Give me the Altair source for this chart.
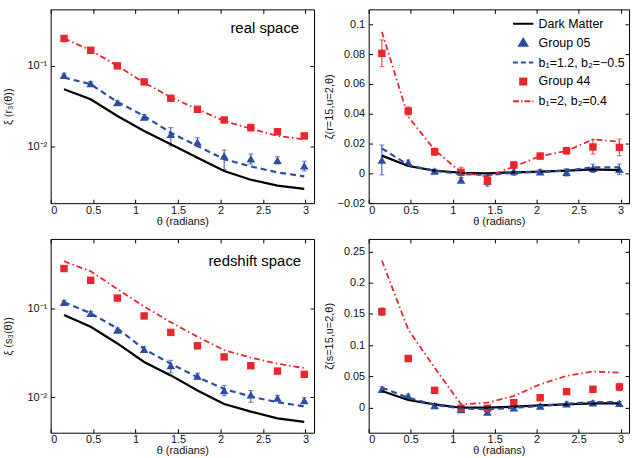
import altair as alt
import pandas as pd

# ---------------- data ----------------
theta = [0.157, 0.471, 0.785, 1.100, 1.414, 1.728, 2.042, 2.356, 2.670, 2.985]

# real space, xi(r3(theta))
dm_r = [0.0514, 0.0386, 0.0240, 0.0156, 0.0107, 0.0073, 0.0050, 0.0039, 0.0033, 0.0030]
fit05_r = [0.0716, 0.0593, 0.0358, 0.0240, 0.0149, 0.0102, 0.0070, 0.0057, 0.0048, 0.0043]
fit44_r = [0.218, 0.156, 0.100, 0.062, 0.041, 0.029, 0.0208, 0.0167, 0.0136, 0.0123]
g05_r = [0.0766, 0.0604, 0.0351, 0.0233, 0.0142, 0.0114, 0.0077, 0.0071, 0.0068, 0.0058]
g05_r_lo = [0.072, 0.056, 0.033, 0.0215, 0.0102, 0.0100, 0.0052, 0.0061, 0.0061, 0.0050]
g05_r_hi = [0.081, 0.064, 0.037, 0.025, 0.0172, 0.0129, 0.0091, 0.0081, 0.0075, 0.0066]
g44_r = [0.218, 0.156, 0.100, 0.0633, 0.0397, 0.0290, 0.0214, 0.0172, 0.0153, 0.0136]
g44_r_lo = [0.209, 0.150, 0.096, 0.060, 0.037, 0.0275, 0.0202, 0.0157, 0.0146, 0.0128]
g44_r_hi = [0.227, 0.163, 0.105, 0.067, 0.043, 0.0305, 0.0226, 0.0190, 0.0160, 0.0145]

# real space, zeta(r=15,u=2,theta)
dm_zr = [0.0119, 0.0049, 0.0018, 0.0004, 0.0000, 0.0007, 0.0011, 0.0018, 0.0027, 0.0022]
fit05_zr = [0.0168, 0.0056, 0.0016, -0.0004, -0.0011, 0.0004, 0.0010, 0.0018, 0.0040, 0.0040]
fit44_zr = [0.0950, 0.0380, 0.0157, 0.0007, -0.0022, 0.0045, 0.0116, 0.0150, 0.0228, 0.0212]
g05_zr = [0.0090, 0.0074, 0.0016, -0.0045, -0.0051, 0.0016, 0.0011, 0.0007, 0.0034, 0.0027]
g05_zr_err = [0.0100, 0.0015, 0.0012, 0.0015, 0.0035, 0.0030, 0.0015, 0.0025, 0.0028, 0.0035]
g44_zr = [0.0805, 0.0418, 0.0145, 0.0007, -0.0049, 0.0056, 0.0116, 0.0152, 0.0177, 0.0174]
g44_zr_err = [0.0090, 0.0028, 0.0025, 0.0034, 0.0028, 0.0022, 0.0019, 0.0023, 0.0048, 0.0056]

# redshift space, xi(s3(theta))
dm_s = [0.084, 0.062, 0.0402, 0.0249, 0.0176, 0.0119, 0.0084, 0.0069, 0.0058, 0.0053]
fit05_s = [0.117, 0.0877, 0.0594, 0.0347, 0.0238, 0.0168, 0.0124, 0.0102, 0.0088, 0.0079]
fit44_s = [0.337, 0.260, 0.164, 0.1045, 0.0695, 0.0478, 0.0338, 0.0279, 0.0238, 0.0213]
g05_s = [0.117, 0.0877, 0.0569, 0.0347, 0.0228, 0.0173, 0.0119, 0.0107, 0.0098, 0.0092]
g05_s_lo = [0.112, 0.084, 0.054, 0.0325, 0.0188, 0.0160, 0.0104, 0.0088, 0.0092, 0.0085]
g05_s_hi = [0.122, 0.092, 0.060, 0.037, 0.0260, 0.0186, 0.0136, 0.0119, 0.0105, 0.0099]
g44_s = [0.279, 0.206, 0.130, 0.0819, 0.0535, 0.0378, 0.0284, 0.0226, 0.0197, 0.0181]
g44_s_lo = [0.272, 0.201, 0.127, 0.080, 0.0522, 0.0369, 0.0277, 0.0220, 0.0192, 0.0176]
g44_s_hi = [0.286, 0.211, 0.133, 0.084, 0.0548, 0.0387, 0.0291, 0.0232, 0.0202, 0.0186]

# redshift space, zeta(s=15,u=2,theta)
dm_zs = [0.0268, 0.0123, 0.0054, 0.0000, 0.0000, 0.0016, 0.0037, 0.0054, 0.0070, 0.0070]
fit05_zs = [0.0320, 0.0160, 0.0043, -0.0010, -0.0027, 0.0000, 0.0027, 0.0064, 0.0090, 0.0090]
fit44_zs = [0.2355, 0.125, 0.064, 0.0054, 0.0080, 0.0187, 0.0375, 0.0510, 0.0580, 0.0560]
g05_zs = [0.0294, 0.0187, 0.0037, -0.0027, -0.0070, 0.0000, 0.0027, 0.0064, 0.0080, 0.0070]
g05_zs_err = [0.004, 0.003, 0.003, 0.003, 0.004, 0.003, 0.003, 0.003, 0.003, 0.003]
g44_zs = [0.1536, 0.0787, 0.0278, -0.0010, -0.0010, 0.0080, 0.0160, 0.0257, 0.0294, 0.0332]
g44_zs_err = [0.006, 0.003, 0.002, 0.002, 0.002, 0.003, 0.003, 0.003, 0.005, 0.006]

x_ticks = [0, 0.5, 1, 1.5, 2, 2.5, 3]
legend_labels = ["Dark Matter", "Group 05", "b₁=1.2, b₂=−0.5", "Group 44", "b₁=2, b₂=0.4"]

# ---------------- styles ----------------
FONT = "Liberation Sans"
BLACK = "#000000"
BLUE = "#2c4da3"
RED = "#e8262d"
LINE_PATH = "M-1,0L1,0"
TRI_PATH = "M0,-0.36L0.4,0.3L-0.4,0.3Z"
SQ_PATH = "M-0.3,-0.3L0.3,-0.3L0.3,0.3L-0.3,0.3Z"
W, H = 265, 195
WR = 262


def sym(v, e):
    return [a - b for a, b in zip(v, e)], [a + b for a, b in zip(v, e)]


def panel(data, yscale, yvalues, ytitle, yext, ytpad, width, label_expr=None,
          note=None, note_xy=(0, 0), with_legend=False):
    df = pd.DataFrame(data)
    xscale = alt.Scale(domain=[0, 3.1], nice=False, zero=False)
    xaxis = alt.Axis(values=x_ticks, format="~g", title="θ (radians)", offset=-4,
                     tickSize=4, domain=False, grid=False, labelPadding=1,
                     titlePadding=0)
    ykw = dict(values=yvalues, title=ytitle, offset=-4, tickSize=4, domain=False,
               grid=False, labelPadding=4, titlePadding=ytpad, minExtent=yext,
               maxExtent=yext)
    if label_expr:
        ykw["labelExpr"] = label_expr
    else:
        ykw["format"] = "~g"
    yaxis = alt.Axis(**ykw)
    X = alt.X("theta:Q", scale=xscale, axis=xaxis)

    def Y(f):
        return alt.Y(f"{f}:Q", scale=yscale, axis=yaxis)

    base = alt.Chart(df)
    layers = []
    for lo, hi, c in [("g05lo", "g05hi", BLUE), ("g44lo", "g44hi", RED)]:
        layers.append(base.mark_rule(color=c, strokeWidth=1).encode(
            x=X, y=Y(lo), y2=alt.Y2(f"{hi}:Q")))
        for f in (lo, hi):
            layers.append(base.mark_tick(color=c, orient="horizontal", size=5,
                                         thickness=1).encode(x=X, y=Y(f)))
    layers.append(base.mark_point(shape="triangle-up", filled=True, size=75,
                                  color=BLUE, opacity=1).encode(x=X, y=Y("g05")))
    layers.append(base.mark_point(shape="square", filled=True, size=56,
                                  color=RED, opacity=1).encode(x=X, y=Y("g44")))
    layers.append(base.mark_line(color=BLACK, strokeWidth=2.2).encode(x=X, y=Y("dm")))
    layers.append(base.mark_line(color=BLUE, strokeWidth=2.2, strokeDash=[6, 4]).encode(
        x=X, y=Y("fit05")))
    layers.append(base.mark_line(color=RED, strokeWidth=1.8,
                                 strokeDash=[6, 3, 1.5, 3]).encode(x=X, y=Y("fit44")))
    if note:
        layers.append(alt.Chart(pd.DataFrame({"t": [note]})).mark_text(
            align="right", baseline="middle", fontSize=15, font=FONT,
            color="black").encode(x=alt.value(note_xy[0]), y=alt.value(note_xy[1]),
                                  text="t:N"))
    if with_legend:
        # legend of the concatenated chart is placed from the root origin
        leg = alt.Legend(title=None, orient="none", legendX=464, legendY=3,
                         labelFont=FONT, labelFontSize=12.5, labelColor="black",
                         symbolSize=420, symbolStrokeWidth=2, rowPadding=1,
                         padding=0, labelOffset=4)

        def sc(rng):
            return alt.Scale(domain=legend_labels, range=rng)

        layers.append(alt.Chart(pd.DataFrame({"series": legend_labels}))
                      .transform_filter("false")
                      .mark_point(filled=False, strokeWidth=2, size=420, opacity=1)
                      .encode(
                          shape=alt.Shape("series:N", scale=sc(
                              [LINE_PATH, TRI_PATH, LINE_PATH, SQ_PATH, LINE_PATH]),
                              legend=leg),
                          stroke=alt.Stroke("series:N", scale=sc(
                              [BLACK, BLUE, BLUE, RED, RED]), legend=leg),
                          fill=alt.Fill("series:N", scale=sc(
                              ["transparent", BLUE, "transparent", RED, "transparent"]),
                              legend=leg),
                          strokeDash=alt.StrokeDash("series:N", scale=sc(
                              [[1, 0], [1, 0], [5, 3], [1, 0], [6, 2, 1.5, 2]]),
                              legend=leg),
                      ))
    inner = alt.layer(*layers)
    mirror = base.transform_filter("false").mark_point().encode(
        x=alt.X("theta:Q", scale=xscale,
                axis=alt.Axis(orient="top", values=x_ticks, labels=False, title=None,
                              offset=-4, tickSize=4, domain=False, grid=False,
                              minExtent=0, maxExtent=0)),
        y=alt.Y("dm:Q", scale=yscale,
                axis=alt.Axis(orient="right", values=yvalues, labels=False,
                              title=None, offset=-4, tickSize=4, domain=False,
                              grid=False, minExtent=0, maxExtent=0)),
    )
    return alt.layer(inner, mirror).resolve_axis(
        x="independent", y="independent").properties(width=width, height=H)


log_expr = "datum.value < 0.05 ? '10⁻²' : '10⁻¹'"

lo, hi = sym(g05_zr, g05_zr_err)
lo2, hi2 = sym(g44_zr, g44_zr_err)
tr_data = dict(theta=theta, dm=dm_zr, fit05=fit05_zr, fit44=fit44_zr, g05=g05_zr,
               g05lo=lo, g05hi=hi, g44=g44_zr, g44lo=lo2, g44hi=hi2)
lo, hi = sym(g05_zs, g05_zs_err)
lo2, hi2 = sym(g44_zs, g44_zs_err)
br_data = dict(theta=theta, dm=dm_zs, fit05=fit05_zs, fit44=fit44_zs, g05=g05_zs,
               g05lo=lo, g05hi=hi, g44=g44_zs, g44lo=lo2, g44hi=hi2)
tl_data = dict(theta=theta, dm=dm_r, fit05=fit05_r, fit44=fit44_r, g05=g05_r,
               g05lo=g05_r_lo, g05hi=g05_r_hi, g44=g44_r, g44lo=g44_r_lo,
               g44hi=g44_r_hi)
bl_data = dict(theta=theta, dm=dm_s, fit05=fit05_s, fit44=fit44_s, g05=g05_s,
               g05lo=g05_s_lo, g05hi=g05_s_hi, g44=g44_s, g44lo=g44_s_lo,
               g44hi=g44_s_hi)

TL = panel(tl_data, alt.Scale(type="log", domain=[0.002, 0.5]), [0.01, 0.1],
           "ξ (r₃(θ))", 28, 13, W, label_expr=log_expr, note="real space",
           note_xy=(250, 19))
TR = panel(tr_data, alt.Scale(domain=[-0.02, 0.11], nice=False, zero=False),
           [-0.02, 0, 0.02, 0.04, 0.06, 0.08, 0.1], "ζ(r=15,u=2,θ)", 35, 3, WR,
           with_legend=True)
BL = panel(bl_data, alt.Scale(type="log", domain=[0.004, 0.6]), [0.01, 0.1],
           "ξ (s₃(θ))", 28, 13, W, label_expr=log_expr, note="redshift space",
           note_xy=(252, 22))
BR = panel(br_data, alt.Scale(domain=[-0.04, 0.27], nice=False, zero=False),
           [0, 0.05, 0.1, 0.15, 0.2, 0.25], "ζ(s=15,u=2,θ)", 35, 3, WR)

chart = alt.vconcat(
    alt.hconcat(TL, TR, spacing=8),
    alt.hconcat(BL, BR, spacing=8),
    spacing=11,
).properties(
    padding={"left": 2, "top": 7, "right": 5, "bottom": 0},
    background="white",
).configure_view(
    stroke="black", strokeWidth=1,
).configure_axis(
    labelFont=FONT, titleFont=FONT, labelFontSize=11, titleFontSize=11,
    titleFontWeight="normal", tickColor="black", labelColor="#111111",
    titleColor="#111111",
)

chart.save("out.html", embed_options={"renderer": "svg", "actions": False})
